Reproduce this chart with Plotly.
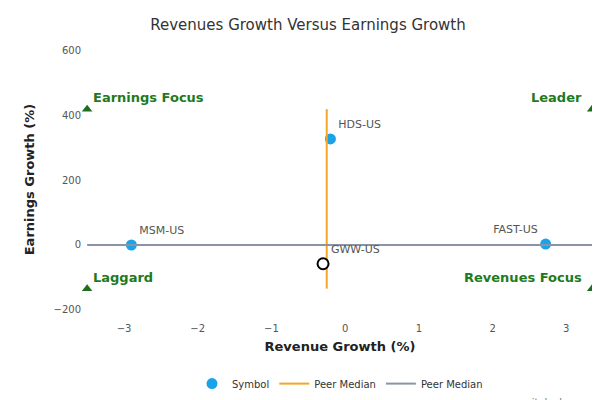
import plotly.graph_objects as go

symbols = ["MSM-US", "HDS-US", "FAST-US"]
rev_growth = [-2.9, -0.2, 2.72]
earn_growth = [0, 328, 3]
label_pos = ["top right", "top right", "top left"]
focus_name = ["GWW-US"]
focus_rev = [-0.3]
focus_earn = [-58]
peer_med_x = [-0.25, -0.25]
peer_med_y = [-135, 420]
peer_h_x = [-3.5, 3.4]
peer_h_y = [0, 0]
corner_x = [-3.5, 3.35, -3.5, 3.35]
corner_y = [420, 420, -135, -135]
corner_labels = ["Earnings Focus", "Leader", "Laggard", "Revenues Focus"]

fig = go.Figure()
fig.add_trace(go.Scatter(x=rev_growth, y=earn_growth, mode="markers+text", text=symbols,
    textposition=label_pos, textfont=dict(size=11, color="#555"),
    marker=dict(size=11, color="#1aa3e8"), name="Symbol"))
fig.add_trace(go.Scatter(x=peer_med_x, y=peer_med_y, mode="lines", line=dict(color="#f5a623", width=2),
    name="Peer Median"))
fig.add_trace(go.Scatter(x=peer_h_x, y=peer_h_y, mode="lines", line=dict(color="#8a94a6", width=2),
    name="Peer Median"))
fig.add_trace(go.Scatter(x=focus_rev, y=focus_earn, mode="markers+text", text=focus_name,
    textposition="top right", textfont=dict(size=11, color="#555"),
    marker=dict(size=11, color="white", line=dict(color="black", width=2)), showlegend=False))
fig.add_trace(go.Scatter(x=corner_x, y=corner_y, mode="markers",
    marker=dict(symbol="triangle-up", size=9, color="#1e6e1e"), showlegend=False))
for x, y, t in zip(corner_x, corner_y, corner_labels):
    left = x < 0
    fig.add_annotation(x=x, y=y, text="<b>%s</b>" % t, showarrow=False,
        xanchor="left" if left else "right", yanchor="bottom", xshift=4 if left else -8, yshift=2,
        font=dict(size=13, color="#1e7a1e"))

fig.update_layout(
    width=600, height=400, plot_bgcolor="white", paper_bgcolor="white",
    font=dict(family="DejaVu Sans", size=11, color="#444"),
    title=dict(text="Revenues Growth Versus Earnings Growth", x=0.5, xanchor="center",
               y=0.957, yanchor="middle", font=dict(size=15, color="#333")),
    margin=dict(l=74, r=10, t=30, b=82),
    xaxis=dict(range=[-3.57, 3.43], tickvals=[-3, -2, -1, 0, 1, 2, 3], showgrid=False, zeroline=False,
        showline=False, automargin=False,
        title=dict(text="<b>Revenue Growth (%)</b>", font=dict(size=13, color="#222"), standoff=8),
        tickfont=dict(size=10, color="#555")),
    yaxis=dict(range=[-235, 640], tickvals=[-200, 0, 200, 400, 600], showgrid=False, zeroline=False,
        automargin=False,
        title=dict(text="<b>Earnings Growth (%)</b>", font=dict(size=13, color="#222")),
        tickfont=dict(size=10, color="#555")),
    legend=dict(orientation="h", x=0.5, xanchor="center", y=-0.17, yanchor="top", font=dict(size=10, color="#333")),
)
fig.add_annotation(text="www.capitalcube.com", xref="paper", yref="paper", x=1, y=-0.26,
    xanchor="right", yanchor="top", showarrow=False, font=dict(size=10, color="#777"))
fig.write_html("out.html")
